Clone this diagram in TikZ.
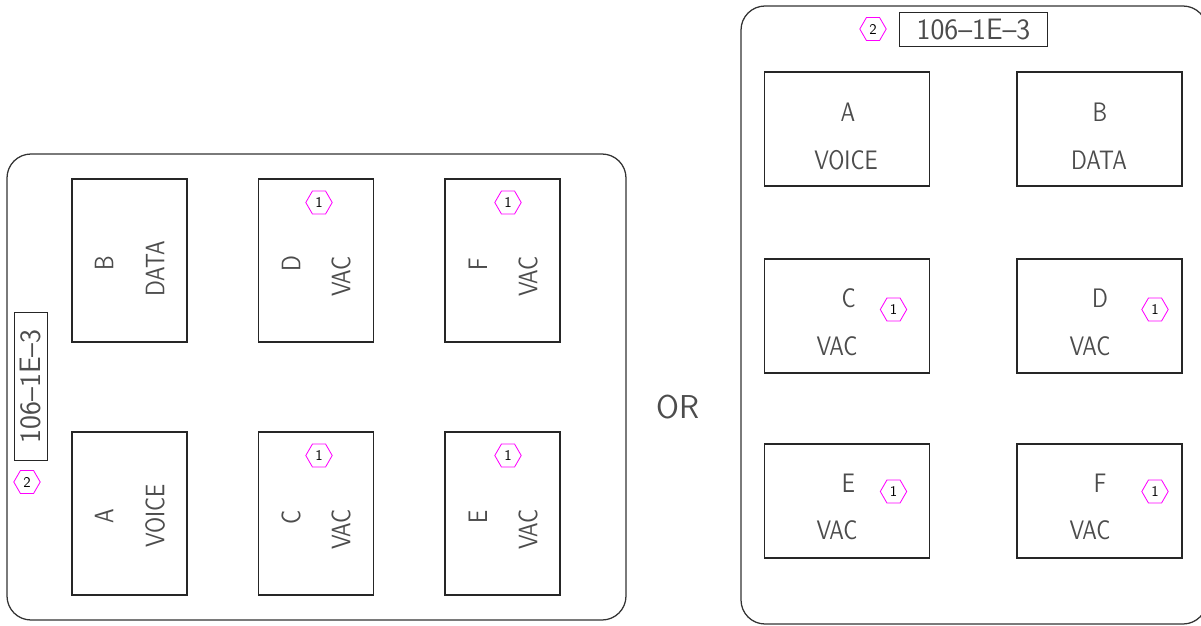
\documentclass[tikz,border=0pt]{standalone}
\usepackage{fontspec}
\usetikzlibrary{shapes.geometric}
\newfontfamily\cadfont[FakeStretch=0.82]{lmsans10-regular.otf}
\definecolor{revmark}{RGB}{255,0,255}

\tikzset{
  panel/.style={draw=black!80,line width=0.9pt,rounded corners=0.6cm},
  slot/.style={draw=black!85,line width=0.9pt,inner sep=0pt,outer sep=0pt},
  tallslot/.style={slot,minimum width=2.875cm,minimum height=4.075cm},
  wideslot/.style={slot,minimum width=4.125cm,minimum height=2.85cm},
  lbl/.style={text=black!70,inner sep=0pt,font=\cadfont\fontsize{19}{22}\selectfont},
  hexmark/.style={draw=revmark,line width=0.6pt,regular polygon,regular polygon sides=6,
    minimum size=0.66cm,inner sep=0pt,font=\sffamily\fontsize{10.5}{12}\selectfont},
  tag/.style={draw=black!85,line width=0.8pt,inner sep=0pt,text=black!70,
    font=\sffamily\fontsize{21}{25}\selectfont,minimum width=3.7cm,minimum height=0.83cm}
}

\begin{document}
\begin{tikzpicture}[x=0.025cm,y=-0.025cm]
\useasboundingbox (0,0) rectangle (1201,625);
\clip (0,0) rectangle (1201,625);

% left panel
\draw[panel] (7,154) rectangle (626,620);
\node[tallslot] (lB) at (129.5,260.5) {};
\node[tallslot] (lD) at (316,260.5) {};
\node[tallslot] (lF) at (502.5,260.5) {};
\node[tallslot] (lA) at (129.5,513.5) {};
\node[tallslot] (lC) at (316,513.5) {};
\node[tallslot] (lE) at (502.5,513.5) {};
\node[lbl,rotate=90] (lBa) at (104,263.5) {B};
\node[lbl,rotate=90] (lBb) at (155,269) {DATA};
\node[lbl,rotate=90] (lDa) at (291,264) {D};
\node[lbl,rotate=90] (lDb) at (341,276.5) {VAC};
\node[lbl,rotate=90] (lFa) at (478,264) {F};
\node[lbl,rotate=90] (lFb) at (528,276.5) {VAC};
\node[lbl,rotate=90] (lAa) at (104,516) {A};
\node[lbl,rotate=90] (lAb) at (155,516) {VOICE};
\node[lbl,rotate=90] (lCa) at (291,517) {C};
\node[lbl,rotate=90] (lCb) at (341,529.5) {VAC};
\node[lbl,rotate=90] (lEa) at (478,517) {E};
\node[lbl,rotate=90] (lEb) at (528,529.5) {VAC};
\node[hexmark] (lDh) at (319,202.5) {1};
\node[hexmark] (lFh) at (508,202.5) {1};
\node[hexmark] (lCh) at (319,455.5) {1};
\node[hexmark] (lEh) at (508,455.5) {1};
\node[tag,rotate=90] (ltag) at (31,386.5) {106--1E--3};
\node[hexmark] (lth) at (27,482) {2};

\node[text=black!70,inner sep=0pt,font=\sffamily\fontsize{23.5}{28}\selectfont] (or) at (678,407) {OR};

% right panel
\draw[panel] (741,6) rectangle (1207,624);
\node[wideslot] (rA) at (847,129) {};
\node[wideslot] (rB) at (1099.5,129) {};
\node[wideslot] (rC) at (847,316) {};
\node[wideslot] (rD) at (1099.5,316) {};
\node[wideslot] (rE) at (847,501) {};
\node[wideslot] (rF) at (1099.5,501) {};
\node[lbl] (rAa) at (848,112) {A};
\node[lbl] (rAb) at (846,160) {VOICE};
\node[lbl] (rBa) at (1100,112) {B};
\node[lbl] (rBb) at (1099,160) {DATA};
\node[lbl] (rCa) at (848.5,298) {C};
\node[lbl] (rCb) at (837,346.5) {VAC};
\node[lbl] (rDa) at (1100,298) {D};
\node[lbl] (rDb) at (1090,346.5) {VAC};
\node[lbl] (rEa) at (848.5,483) {E};
\node[lbl] (rEb) at (837,530.5) {VAC};
\node[lbl] (rFa) at (1100,483) {F};
\node[lbl] (rFb) at (1090,530.5) {VAC};
\node[hexmark] (rCh) at (893.5,309.5) {1};
\node[hexmark] (rDh) at (1155,309.5) {1};
\node[hexmark] (rEh) at (893.5,491.5) {1};
\node[hexmark] (rFh) at (1155,491.5) {1};
\node[tag] (rtag) at (973.5,29.5) {106--1E--3};
\node[hexmark] (rth) at (873,29) {2};
\end{tikzpicture}
\end{document}
